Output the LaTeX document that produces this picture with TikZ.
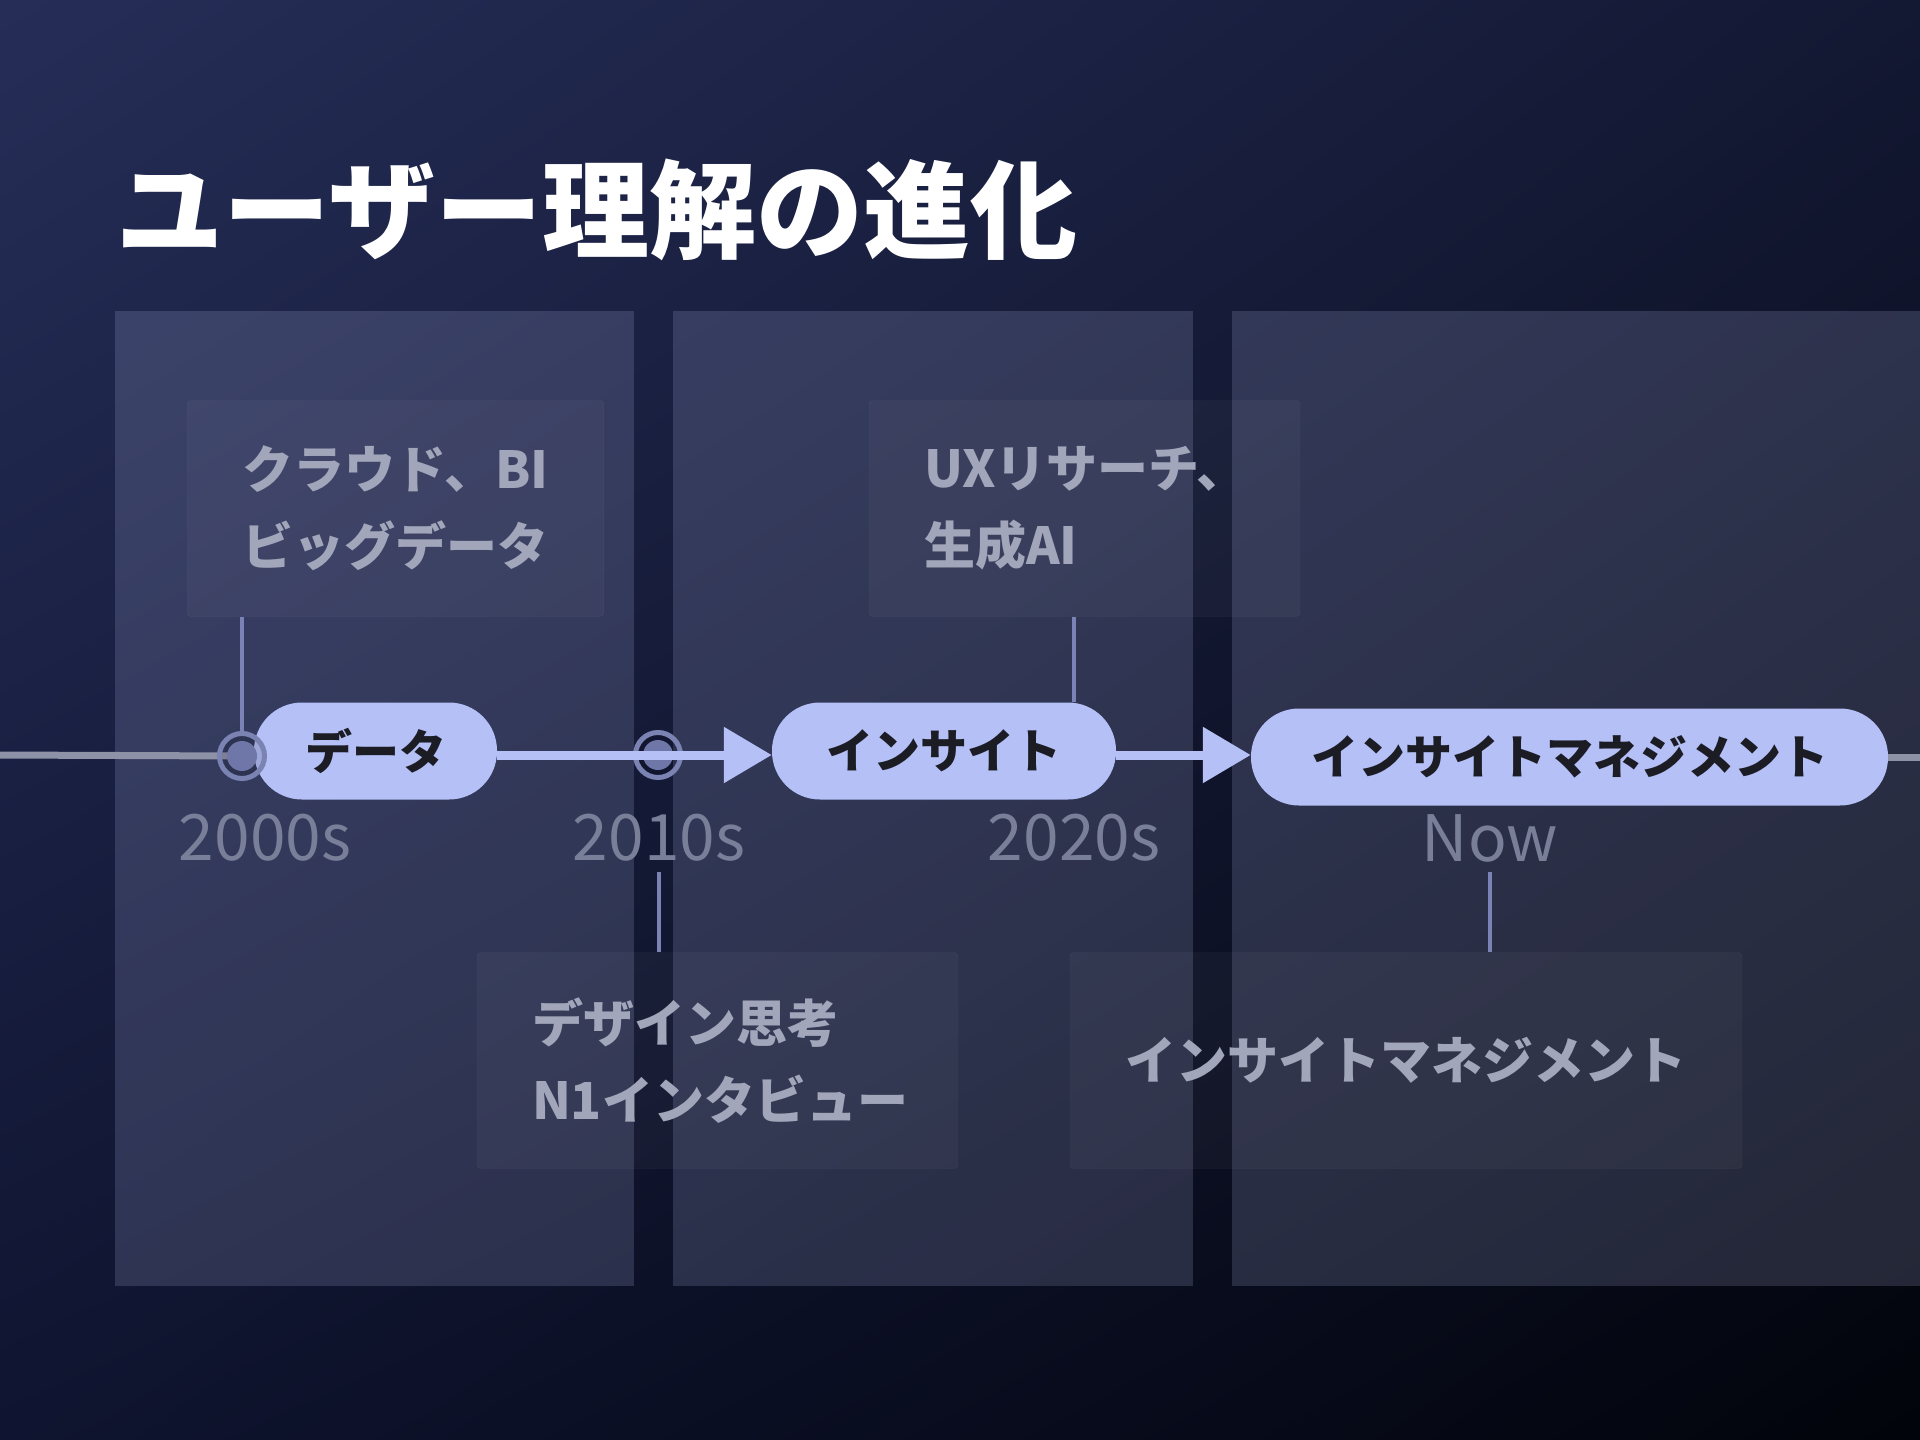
\documentclass[tikz,border=0pt]{standalone}
\usepackage{fontspec}
\setmainfont{Noto Sans CJK JP}
\usepackage{tikz}
\usetikzlibrary{arrows.meta,positioning,shadings}
\definecolor{SkyTL}    {HTML}{262E58}
\definecolor{SkyTR}    {HTML}{131833}
\definecolor{SkyBL}    {HTML}{0F1430}
\definecolor{SkyBR}    {HTML}{02040B}
\definecolor{PanelTint}{HTML}{C8D0FF}
\definecolor{PillFill} {HTML}{B4C0F6}
\definecolor{PillInk}  {HTML}{1C1C24}
\definecolor{NoteInk}  {HTML}{A2A6BA}
\definecolor{YearInk}  {HTML}{7A7F99}
\definecolor{TickLine} {HTML}{7A82B6}
\definecolor{RingLine} {HTML}{7B83B3}
\definecolor{DotFill}  {HTML}{6F77A9}
\definecolor{AxisGrey} {HTML}{8E92A7}

\tikzset{
  panel/.style={fill=PanelTint,fill opacity=0.165},
  title/.style={text=white,inner sep=0pt,font=\bfseries\fontsize{107}{107}\selectfont},
  notebox/.style={draw=white,draw opacity=0.07,fill=white,fill opacity=0.035,
    text opacity=1,rounded corners=4pt,minimum height=216pt,inner xsep=55pt,
    align=left,text=NoteInk,font=\bfseries\fontsize{51}{77}\selectfont},
  pill/.style={fill=PillFill,rounded corners=48pt,minimum height=97pt,
    inner xsep=0pt,text=PillInk,font=\bfseries\fontsize{47}{47}\selectfont},
  yearlabel/.style={text=YearInk,inner sep=0pt,outer sep=10pt,
    font=\fontsize{64}{64}\selectfont},
  ring/.style={circle,draw=RingLine,line width=5pt,fill=black,fill opacity=0.12,
    minimum size=45pt,inner sep=0pt},
  dot/.style={circle,fill=DotFill,minimum size=30pt,inner sep=0pt},
  tick/.style={draw=TickLine,line width=4pt},
  axis/.style={draw=AxisGrey,line width=7pt},
  flow/.style={draw=PillFill,line width=9pt,-{Triangle[length=48pt,width=54pt]}}
}

\begin{document}
\begin{tikzpicture}[x=1pt,y=-1pt]
  \useasboundingbox (0,0) rectangle (1920,1440);
  \shade[upper left=SkyTL,upper right=SkyTR,lower left=SkyBL,lower right=SkyBR]
    (0,0) rectangle (1920,1440);

  \fill[panel] (115,311) rectangle (634,1286);
  \fill[panel] (673,311) rectangle (1193,1286);
  \fill[panel] (1232,311) rectangle (1920,1286);

  \node[title,anchor=west] (title) at (116,210) {ユーザー理解の進化};

  \node[notebox,minimum width=416.5pt,text width=306.5pt] (cloud) at (395.5,508.5)
    {クラウド、BI\\ビッグデータ};
  \node[notebox,minimum width=431pt,text width=321pt] (uxres) at (1084.5,508.5)
    {UXリサーチ、\\生成AI};
  \node[notebox,minimum width=481pt,text width=371pt] (design) at (717.5,1060.5)
    {デザイン思考\\N1インタビュー};
  \node[notebox,minimum width=672pt,text width=562pt,align=center] (mgmtnote) at (1406,1060.5)
    {インサイトマネジメント};

  \node[pill,minimum width=243pt] (data) at (375.5,751) {データ};
  \node[pill,minimum width=344pt] (insight) at (944,751) {インサイト};
  \node[pill,minimum width=637pt] (mgmt) at (1569.5,757) {インサイトマネジメント};

  \node[yearlabel] (y2000) at (265,838) {2000s};
  \node[yearlabel] (y2010) at (659,838) {2010s};
  \node[yearlabel] (y2020) at (1074,838) {2020s};
  \node[yearlabel] (ynow) at (1490,838) {Now};

  \coordinate (axisL) at (0,755);
  \coordinate (axisR) at (1920,757);
  \coordinate (m2000) at (242,756);
  \coordinate (m2010) at (658,755);
  \draw[axis] (axisL) -- (m2000);
  \draw[axis] (mgmt.east) -- (axisR);

  \node[ring] (r2000) at (m2000) {};
  \node[dot] (c2000) at (m2000) {};
  \node[ring] (r2010) at (m2010) {};
  \node[dot] (c2010) at (m2010) {};

  \draw[tick] (r2000 |- cloud.south) -- (r2000.north);
  \draw[tick] (y2020 |- uxres.south) -- (y2020 |- insight.north);
  \draw[tick] (y2010.south) -- (y2010 |- design.north);
  \draw[tick] (ynow.south) -- (ynow |- mgmtnote.north);

  \draw[flow] (data.east |- m2010) -- (insight.west |- m2010);
  \draw[flow] (insight.east |- m2010) -- (mgmt.west |- m2010);
\end{tikzpicture}
\end{document}
